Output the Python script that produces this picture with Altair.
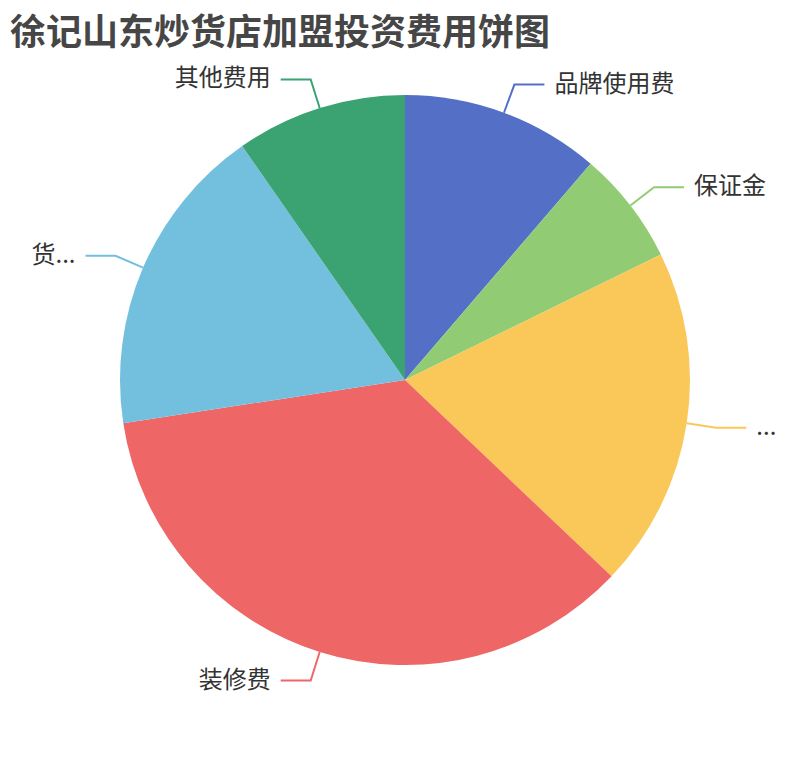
import altair as alt
import numpy as np
import pandas as pd

# investment items (万元) in clockwise order from 12 o'clock
names = ["品牌使用费", "保证金", "...", "装修费", "货...", "其他费用"]
values = [3.5, 2, 6, 11, 5.5, 3]
colors = ["#5470c6", "#91cc75", "#fac858", "#ee6666", "#73c0de", "#3ba272"]

W, H = 794, 632
R = 285          # pie radius
LEN1, LEN2 = 30, 30
GAP = 10
FONT = "Noto Sans CJK SC"

pie_df = pd.DataFrame({"name": names, "value": values, "order": range(len(names))})

# leader line geometry from the slice mid angles
total = pie_df["value"].sum()
mid = (pie_df["value"].cumsum() - pie_df["value"] / 2) / total * 2 * np.pi
side = np.where(np.sin(mid) >= 0, 1, -1)
x0, y0 = R * np.sin(mid), R * np.cos(mid)
x1, y1 = (R + LEN1) * np.sin(mid), (R + LEN1) * np.cos(mid)
x2 = x1 + side * LEN2

line_rows = []
for i, n in enumerate(names):
    for step, (lx, ly) in enumerate([(x0[i], y0[i]), (x1[i], y1[i]), (x2[i], y1[i])]):
        line_rows.append({"name": n, "step": step, "x": lx, "y": ly})
line_df = pd.DataFrame(line_rows)

label_df = pd.DataFrame({"name": names, "x": x2 + side * GAP, "y": y1, "side": side})

color = alt.Color("name:N", scale=alt.Scale(domain=names, range=colors), legend=None)
xs = alt.X("x:Q", scale=alt.Scale(domain=[-W / 2, W / 2]), axis=None)
ys = alt.Y("y:Q", scale=alt.Scale(domain=[-H / 2, H / 2]), axis=None)

pie = alt.Chart(pie_df).mark_arc(outerRadius=R).encode(
    theta=alt.Theta("value:Q", stack=True),
    order=alt.Order("order:Q"),
    color=color,
)

lines = alt.Chart(line_df).mark_line(strokeWidth=2).encode(
    x=xs, y=ys, detail="name:N", order="step:Q", color=color
)

right_labels = alt.Chart(label_df).transform_filter(alt.datum.side > 0).mark_text(
    align="left", baseline="middle", fontSize=24, font=FONT, color="#333"
).encode(x=xs, y=ys, text="name:N")

left_labels = alt.Chart(label_df).transform_filter(alt.datum.side < 0).mark_text(
    align="right", baseline="middle", fontSize=24, font=FONT, color="#333"
).encode(x=xs, y=ys, text="name:N")

chart = alt.layer(pie, lines, right_labels, left_labels).properties(
    width=W,
    height=H,
    autosize=alt.AutoSizeParams(type="none"),
    padding={"left": 0, "top": 56, "right": 0, "bottom": 0},
    title=alt.Title(
        "徐记山东炒货店加盟投资费用饼图",
        anchor="start",
        fontSize=36,
        fontWeight="bold",
        font=FONT,
        color="#464646",
        offset=11,
        dx=2,
    ),
).configure_view(strokeWidth=0)

chart.save("out.html", embed_options={"renderer": "svg", "actions": False})
